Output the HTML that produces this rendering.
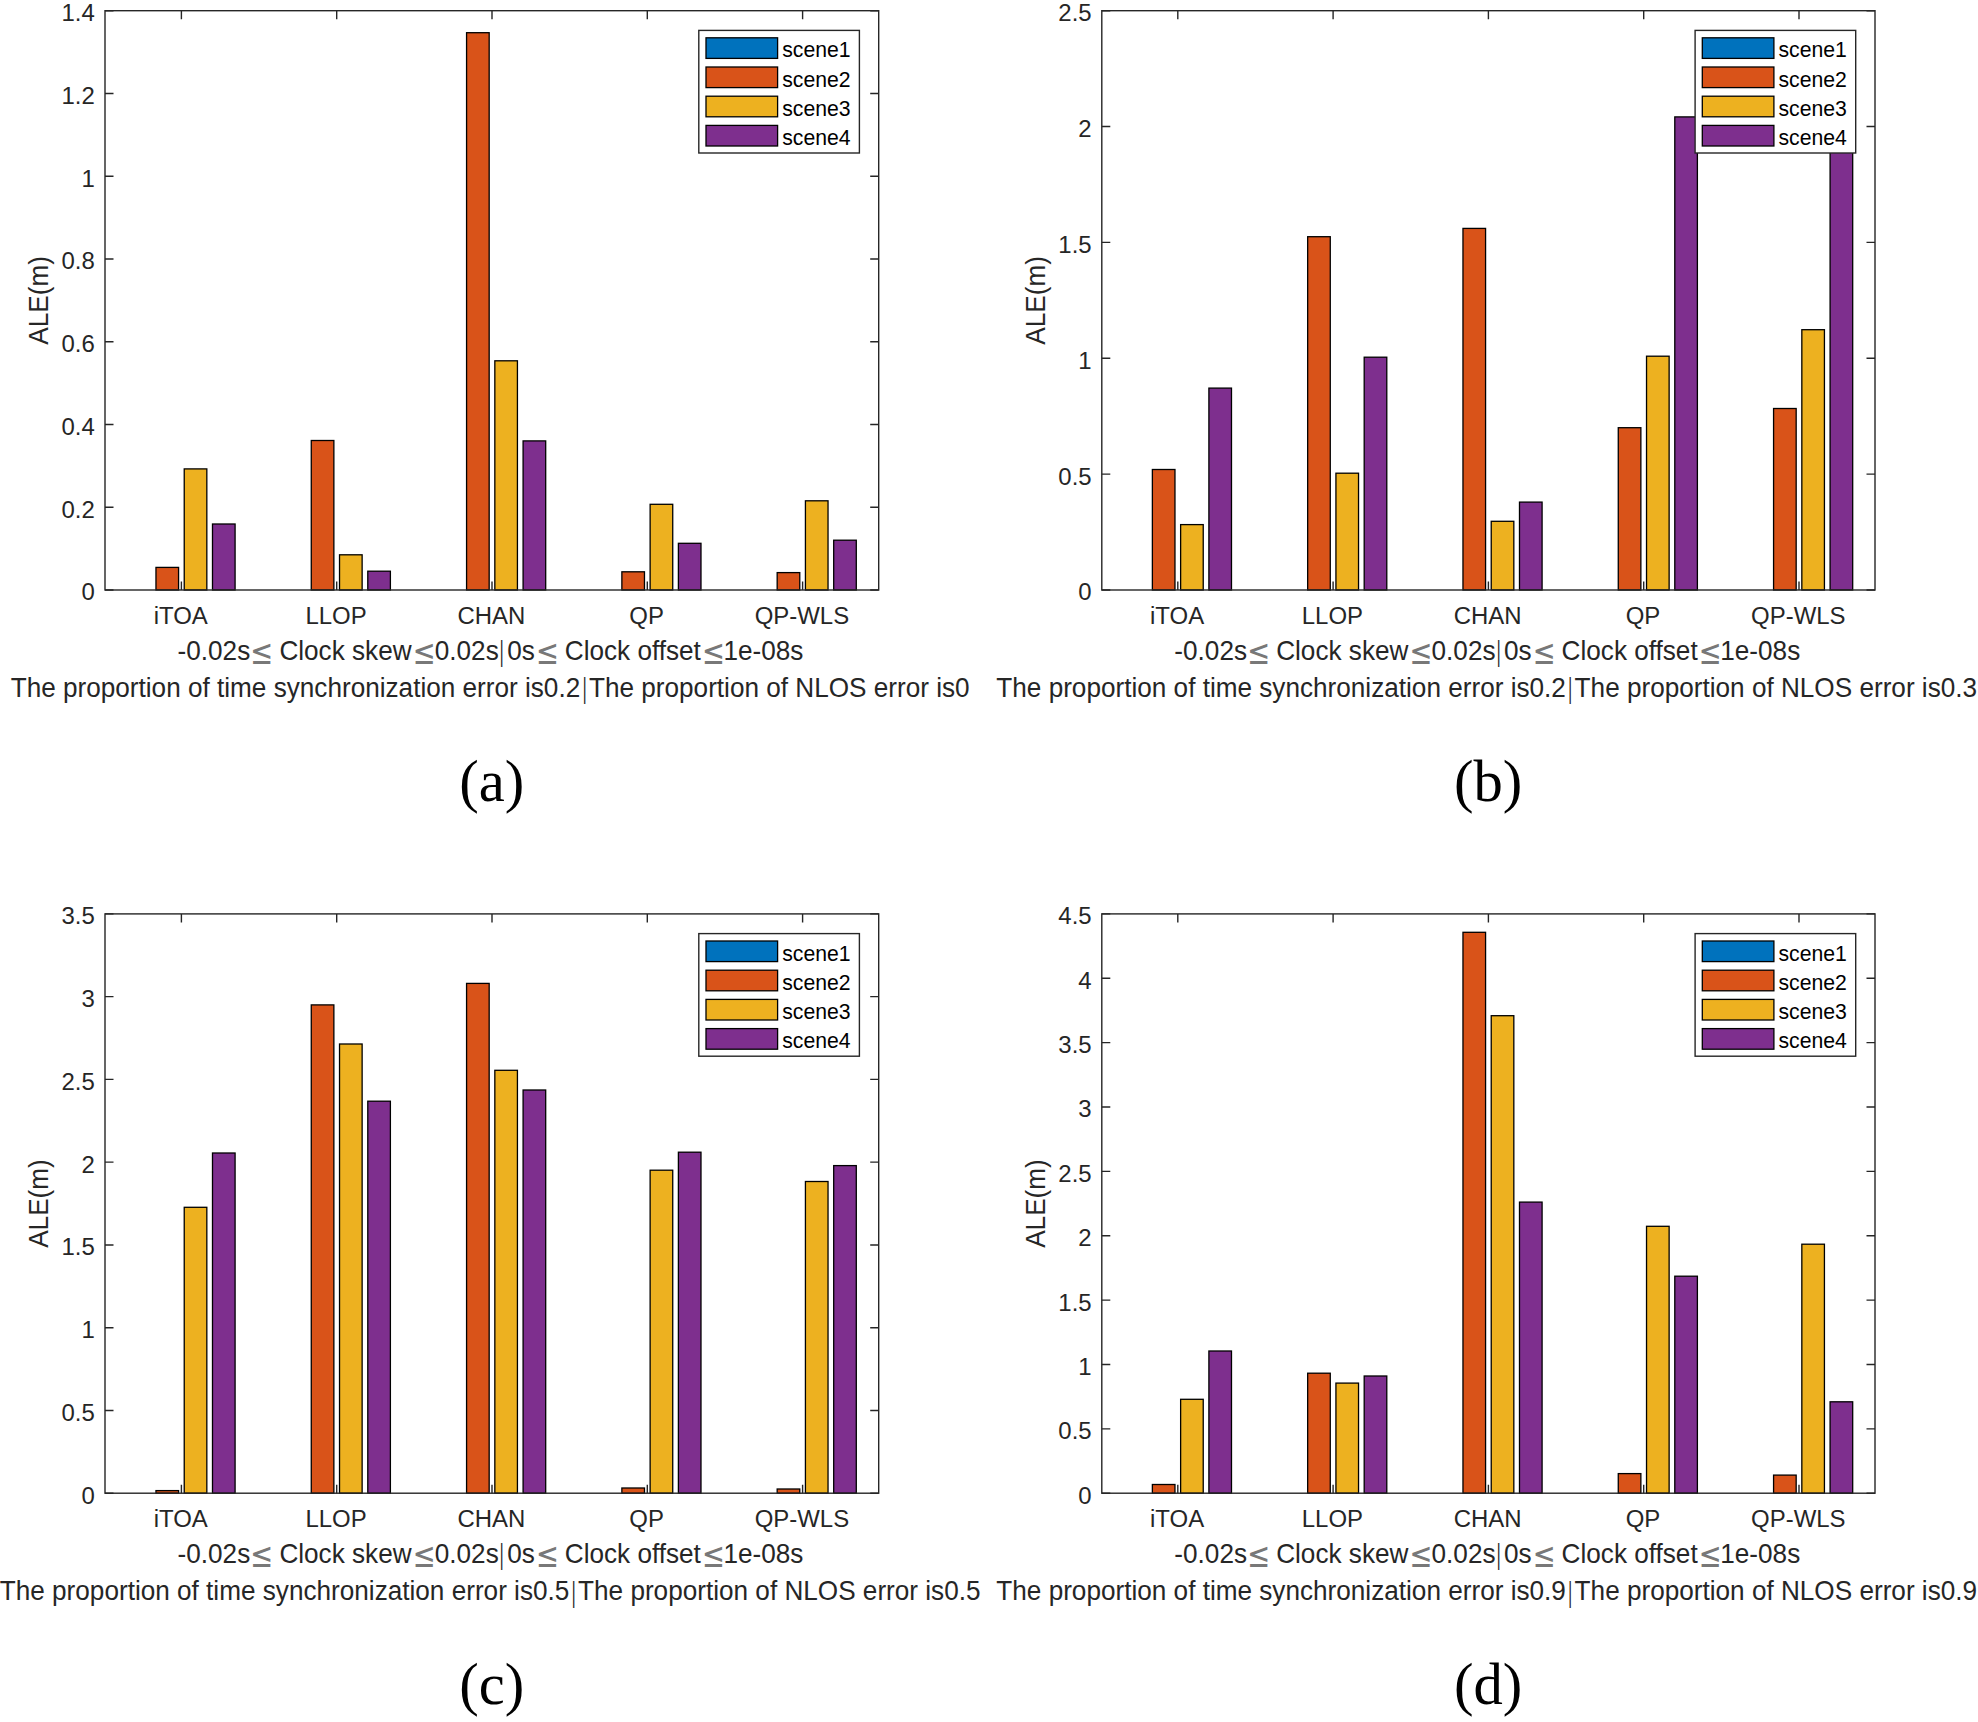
<!DOCTYPE html>
<html lang="en"><head><meta charset="utf-8"><title>ALE bar charts</title>
<style>html,body{margin:0;padding:0;background:#fff}svg{display:block}text{font-family:"Liberation Sans",Arial,sans-serif;fill:#262626}.tk{font-size:23.95px}.lb{font-size:26.15px}.lg{font-size:21.2px;fill:#000}.tag{font-family:"Liberation Serif","Times New Roman",serif;font-size:58.6px;fill:#000}.m{font-family:"DejaVu Sans Light","DejaVu Sans",sans-serif;font-weight:200;font-size:26px}.q{font-family:"DejaVu Sans",sans-serif;font-size:27.5px;fill:#787878}</style></head><body>
<svg width="1978" height="1722" viewBox="0 0 1978 1722">
<rect width="1978" height="1722" fill="#fff"/>
<g id="panel-a">
<path d="M181.4 590v-8.5M181.4 10.7v8.5M336.7 590v-8.5M336.7 10.7v8.5M492 590v-8.5M492 10.7v8.5M647.3 590v-8.5M647.3 10.7v8.5M802.6 590v-8.5M802.6 10.7v8.5M105 590h8.5M878.7 590h-8.5M105 507.24h8.5M878.7 507.24h-8.5M105 424.49h8.5M878.7 424.49h-8.5M105 341.73h8.5M878.7 341.73h-8.5M105 258.97h8.5M878.7 258.97h-8.5M105 176.21h8.5M878.7 176.21h-8.5M105 93.46h8.5M878.7 93.46h-8.5M105 10.7h8.5M878.7 10.7h-8.5" stroke="#262626" stroke-width="1.4" fill="none"/>
<rect x="155.97" y="567.4" width="22.6" height="22.6" fill="#D95319" stroke="#000" stroke-width="1.3"/>
<rect x="184.23" y="468.9" width="22.6" height="121.1" fill="#EDB120" stroke="#000" stroke-width="1.3"/>
<rect x="212.49" y="524" width="22.6" height="66" fill="#7E2F8E" stroke="#000" stroke-width="1.3"/>
<rect x="311.27" y="440.5" width="22.6" height="149.5" fill="#D95319" stroke="#000" stroke-width="1.3"/>
<rect x="339.53" y="554.8" width="22.6" height="35.2" fill="#EDB120" stroke="#000" stroke-width="1.3"/>
<rect x="367.79" y="571.2" width="22.6" height="18.8" fill="#7E2F8E" stroke="#000" stroke-width="1.3"/>
<rect x="466.57" y="32.7" width="22.6" height="557.3" fill="#D95319" stroke="#000" stroke-width="1.3"/>
<rect x="494.83" y="360.8" width="22.6" height="229.2" fill="#EDB120" stroke="#000" stroke-width="1.3"/>
<rect x="523.09" y="440.9" width="22.6" height="149.1" fill="#7E2F8E" stroke="#000" stroke-width="1.3"/>
<rect x="621.87" y="571.8" width="22.6" height="18.2" fill="#D95319" stroke="#000" stroke-width="1.3"/>
<rect x="650.13" y="504.3" width="22.6" height="85.7" fill="#EDB120" stroke="#000" stroke-width="1.3"/>
<rect x="678.39" y="543.3" width="22.6" height="46.7" fill="#7E2F8E" stroke="#000" stroke-width="1.3"/>
<rect x="777.17" y="572.6" width="22.6" height="17.4" fill="#D95319" stroke="#000" stroke-width="1.3"/>
<rect x="805.43" y="500.8" width="22.6" height="89.2" fill="#EDB120" stroke="#000" stroke-width="1.3"/>
<rect x="833.69" y="540.2" width="22.6" height="49.8" fill="#7E2F8E" stroke="#000" stroke-width="1.3"/>
<rect x="105" y="10.7" width="773.7" height="579.3" fill="none" stroke="#262626" stroke-width="1.4"/>
<text class="tk" x="94.8" y="600.4" text-anchor="end">0</text>
<text class="tk" x="94.8" y="517.64" text-anchor="end">0.2</text>
<text class="tk" x="94.8" y="434.89" text-anchor="end">0.4</text>
<text class="tk" x="94.8" y="352.13" text-anchor="end">0.6</text>
<text class="tk" x="94.8" y="269.37" text-anchor="end">0.8</text>
<text class="tk" x="94.8" y="186.61" text-anchor="end">1</text>
<text class="tk" x="94.8" y="103.86" text-anchor="end">1.2</text>
<text class="tk" x="94.8" y="21.1" text-anchor="end">1.4</text>
<text class="tk" x="180.7" y="624.1" text-anchor="middle">iTOA</text>
<text class="tk" x="336" y="624.1" text-anchor="middle">LLOP</text>
<text class="tk" x="491.3" y="624.1" text-anchor="middle">CHAN</text>
<text class="tk" x="646.6" y="624.1" text-anchor="middle">QP</text>
<text class="tk" x="801.9" y="624.1" text-anchor="middle">QP-WLS</text>
<text class="lb" transform="translate(48 300.35) rotate(-90) scale(1 1.045)" text-anchor="middle">ALE(m)</text>
<text class="lb" transform="translate(0 659.8) scale(1 1.045)"><tspan x="177.56" y="0">-0.02s</tspan><tspan x="279.39" y="0">Clock skew</tspan><tspan x="434.76" y="0">0.02s</tspan><tspan class="m" x="497.38" y="0.4">|</tspan><tspan x="507.16" y="0">0s</tspan><tspan x="564.8" y="0">Clock offset</tspan><tspan x="723.49" y="0">1e-08s</tspan></text>
<text class="q" transform="translate(250.09 663.5) scale(1 1.27)">≤</text>
<text class="q" transform="translate(412.38 663.5) scale(1 1.27)">≤</text>
<text class="q" transform="translate(535.69 663.5) scale(1 1.27)">≤</text>
<text class="q" transform="translate(701.69 663.5) scale(1 1.27)">≤</text>
<text class="lb" transform="translate(490.15 696.8) scale(1 1.045)" text-anchor="middle">The proportion of time synchronization error is0.2<tspan class="m" dy="0.5">|</tspan><tspan dy="-0.5">The proportion of NLOS error is0</tspan></text>
<rect x="698.8" y="30.4" width="160.6" height="122.6" fill="#fff" stroke="#262626" stroke-width="1.4"/>
<rect x="706" y="37.8" width="71.6" height="20.6" fill="#0072BD" stroke="#000" stroke-width="1.3"/>
<text class="lg" x="782.2" y="57.3">scene1</text>
<rect x="706" y="67" width="71.6" height="20.6" fill="#D95319" stroke="#000" stroke-width="1.3"/>
<text class="lg" x="782.2" y="86.5">scene2</text>
<rect x="706" y="96.2" width="71.6" height="20.6" fill="#EDB120" stroke="#000" stroke-width="1.3"/>
<text class="lg" x="782.2" y="115.7">scene3</text>
<rect x="706" y="125.4" width="71.6" height="20.6" fill="#7E2F8E" stroke="#000" stroke-width="1.3"/>
<text class="lg" x="782.2" y="144.9">scene4</text>
<text class="tag" x="491.65" y="801.1" text-anchor="middle">(a)</text>
</g>
<g id="panel-b">
<path d="M1177.8 590v-8.5M1177.8 10.7v8.5M1333.1 590v-8.5M1333.1 10.7v8.5M1488.4 590v-8.5M1488.4 10.7v8.5M1643.7 590v-8.5M1643.7 10.7v8.5M1799 590v-8.5M1799 10.7v8.5M1101.8 590h8.5M1875 590h-8.5M1101.8 474.14h8.5M1875 474.14h-8.5M1101.8 358.28h8.5M1875 358.28h-8.5M1101.8 242.42h8.5M1875 242.42h-8.5M1101.8 126.56h8.5M1875 126.56h-8.5M1101.8 10.7h8.5M1875 10.7h-8.5" stroke="#262626" stroke-width="1.4" fill="none"/>
<rect x="1152.37" y="469.5" width="22.6" height="120.5" fill="#D95319" stroke="#000" stroke-width="1.3"/>
<rect x="1180.63" y="524.6" width="22.6" height="65.4" fill="#EDB120" stroke="#000" stroke-width="1.3"/>
<rect x="1208.89" y="388.1" width="22.6" height="201.9" fill="#7E2F8E" stroke="#000" stroke-width="1.3"/>
<rect x="1307.67" y="236.7" width="22.6" height="353.3" fill="#D95319" stroke="#000" stroke-width="1.3"/>
<rect x="1335.93" y="473.2" width="22.6" height="116.8" fill="#EDB120" stroke="#000" stroke-width="1.3"/>
<rect x="1364.19" y="357.2" width="22.6" height="232.8" fill="#7E2F8E" stroke="#000" stroke-width="1.3"/>
<rect x="1462.97" y="228.4" width="22.6" height="361.6" fill="#D95319" stroke="#000" stroke-width="1.3"/>
<rect x="1491.23" y="521.3" width="22.6" height="68.7" fill="#EDB120" stroke="#000" stroke-width="1.3"/>
<rect x="1519.49" y="502.1" width="22.6" height="87.9" fill="#7E2F8E" stroke="#000" stroke-width="1.3"/>
<rect x="1618.27" y="427.7" width="22.6" height="162.3" fill="#D95319" stroke="#000" stroke-width="1.3"/>
<rect x="1646.53" y="356.2" width="22.6" height="233.8" fill="#EDB120" stroke="#000" stroke-width="1.3"/>
<rect x="1674.79" y="116.9" width="22.6" height="473.1" fill="#7E2F8E" stroke="#000" stroke-width="1.3"/>
<rect x="1773.57" y="408.5" width="22.6" height="181.5" fill="#D95319" stroke="#000" stroke-width="1.3"/>
<rect x="1801.83" y="329.7" width="22.6" height="260.3" fill="#EDB120" stroke="#000" stroke-width="1.3"/>
<rect x="1830.09" y="100.6" width="22.6" height="489.4" fill="#7E2F8E" stroke="#000" stroke-width="1.3"/>
<rect x="1101.8" y="10.7" width="773.2" height="579.3" fill="none" stroke="#262626" stroke-width="1.4"/>
<text class="tk" x="1091.6" y="600.4" text-anchor="end">0</text>
<text class="tk" x="1091.6" y="484.54" text-anchor="end">0.5</text>
<text class="tk" x="1091.6" y="368.68" text-anchor="end">1</text>
<text class="tk" x="1091.6" y="252.82" text-anchor="end">1.5</text>
<text class="tk" x="1091.6" y="136.96" text-anchor="end">2</text>
<text class="tk" x="1091.6" y="21.1" text-anchor="end">2.5</text>
<text class="tk" x="1177.1" y="624.1" text-anchor="middle">iTOA</text>
<text class="tk" x="1332.4" y="624.1" text-anchor="middle">LLOP</text>
<text class="tk" x="1487.7" y="624.1" text-anchor="middle">CHAN</text>
<text class="tk" x="1643" y="624.1" text-anchor="middle">QP</text>
<text class="tk" x="1798.3" y="624.1" text-anchor="middle">QP-WLS</text>
<text class="lb" transform="translate(1044.8 300.35) rotate(-90) scale(1 1.045)" text-anchor="middle">ALE(m)</text>
<text class="lb" transform="translate(0 659.8) scale(1 1.045)"><tspan x="1174.36" y="0">-0.02s</tspan><tspan x="1276.19" y="0">Clock skew</tspan><tspan x="1431.56" y="0">0.02s</tspan><tspan class="m" x="1494.18" y="0.4">|</tspan><tspan x="1503.96" y="0">0s</tspan><tspan x="1561.6" y="0">Clock offset</tspan><tspan x="1720.29" y="0">1e-08s</tspan></text>
<text class="q" transform="translate(1246.88 663.5) scale(1 1.27)">≤</text>
<text class="q" transform="translate(1409.18 663.5) scale(1 1.27)">≤</text>
<text class="q" transform="translate(1532.49 663.5) scale(1 1.27)">≤</text>
<text class="q" transform="translate(1698.49 663.5) scale(1 1.27)">≤</text>
<text class="lb" transform="translate(1486.7 696.8) scale(1 1.045)" text-anchor="middle">The proportion of time synchronization error is0.2<tspan class="m" dy="0.5">|</tspan><tspan dy="-0.5">The proportion of NLOS error is0.3</tspan></text>
<rect x="1695.1" y="30.4" width="160.6" height="122.6" fill="#fff" stroke="#262626" stroke-width="1.4"/>
<rect x="1702.3" y="37.8" width="71.6" height="20.6" fill="#0072BD" stroke="#000" stroke-width="1.3"/>
<text class="lg" x="1778.5" y="57.3">scene1</text>
<rect x="1702.3" y="67" width="71.6" height="20.6" fill="#D95319" stroke="#000" stroke-width="1.3"/>
<text class="lg" x="1778.5" y="86.5">scene2</text>
<rect x="1702.3" y="96.2" width="71.6" height="20.6" fill="#EDB120" stroke="#000" stroke-width="1.3"/>
<text class="lg" x="1778.5" y="115.7">scene3</text>
<rect x="1702.3" y="125.4" width="71.6" height="20.6" fill="#7E2F8E" stroke="#000" stroke-width="1.3"/>
<text class="lg" x="1778.5" y="144.9">scene4</text>
<text class="tag" x="1488.2" y="801.1" text-anchor="middle">(b)</text>
</g>
<g id="panel-c">
<path d="M181.4 1493.2v-8.5M181.4 913.9v8.5M336.7 1493.2v-8.5M336.7 913.9v8.5M492 1493.2v-8.5M492 913.9v8.5M647.3 1493.2v-8.5M647.3 913.9v8.5M802.6 1493.2v-8.5M802.6 913.9v8.5M105 1493.2h8.5M878.7 1493.2h-8.5M105 1410.44h8.5M878.7 1410.44h-8.5M105 1327.69h8.5M878.7 1327.69h-8.5M105 1244.93h8.5M878.7 1244.93h-8.5M105 1162.17h8.5M878.7 1162.17h-8.5M105 1079.41h8.5M878.7 1079.41h-8.5M105 996.66h8.5M878.7 996.66h-8.5M105 913.9h8.5M878.7 913.9h-8.5" stroke="#262626" stroke-width="1.4" fill="none"/>
<rect x="155.97" y="1490.6" width="22.6" height="2.6" fill="#D95319" stroke="#000" stroke-width="1.3"/>
<rect x="184.23" y="1207.3" width="22.6" height="285.9" fill="#EDB120" stroke="#000" stroke-width="1.3"/>
<rect x="212.49" y="1153" width="22.6" height="340.2" fill="#7E2F8E" stroke="#000" stroke-width="1.3"/>
<rect x="311.27" y="1004.9" width="22.6" height="488.3" fill="#D95319" stroke="#000" stroke-width="1.3"/>
<rect x="339.53" y="1044" width="22.6" height="449.2" fill="#EDB120" stroke="#000" stroke-width="1.3"/>
<rect x="367.79" y="1101.2" width="22.6" height="392" fill="#7E2F8E" stroke="#000" stroke-width="1.3"/>
<rect x="466.57" y="983.4" width="22.6" height="509.8" fill="#D95319" stroke="#000" stroke-width="1.3"/>
<rect x="494.83" y="1070.3" width="22.6" height="422.9" fill="#EDB120" stroke="#000" stroke-width="1.3"/>
<rect x="523.09" y="1090" width="22.6" height="403.2" fill="#7E2F8E" stroke="#000" stroke-width="1.3"/>
<rect x="621.87" y="1488" width="22.6" height="5.2" fill="#D95319" stroke="#000" stroke-width="1.3"/>
<rect x="650.13" y="1170.2" width="22.6" height="323" fill="#EDB120" stroke="#000" stroke-width="1.3"/>
<rect x="678.39" y="1152.2" width="22.6" height="341" fill="#7E2F8E" stroke="#000" stroke-width="1.3"/>
<rect x="777.17" y="1489" width="22.6" height="4.2" fill="#D95319" stroke="#000" stroke-width="1.3"/>
<rect x="805.43" y="1181.5" width="22.6" height="311.7" fill="#EDB120" stroke="#000" stroke-width="1.3"/>
<rect x="833.69" y="1165.6" width="22.6" height="327.6" fill="#7E2F8E" stroke="#000" stroke-width="1.3"/>
<rect x="105" y="913.9" width="773.7" height="579.3" fill="none" stroke="#262626" stroke-width="1.4"/>
<text class="tk" x="94.8" y="1503.6" text-anchor="end">0</text>
<text class="tk" x="94.8" y="1420.84" text-anchor="end">0.5</text>
<text class="tk" x="94.8" y="1338.09" text-anchor="end">1</text>
<text class="tk" x="94.8" y="1255.33" text-anchor="end">1.5</text>
<text class="tk" x="94.8" y="1172.57" text-anchor="end">2</text>
<text class="tk" x="94.8" y="1089.81" text-anchor="end">2.5</text>
<text class="tk" x="94.8" y="1007.06" text-anchor="end">3</text>
<text class="tk" x="94.8" y="924.3" text-anchor="end">3.5</text>
<text class="tk" x="180.7" y="1527.3" text-anchor="middle">iTOA</text>
<text class="tk" x="336" y="1527.3" text-anchor="middle">LLOP</text>
<text class="tk" x="491.3" y="1527.3" text-anchor="middle">CHAN</text>
<text class="tk" x="646.6" y="1527.3" text-anchor="middle">QP</text>
<text class="tk" x="801.9" y="1527.3" text-anchor="middle">QP-WLS</text>
<text class="lb" transform="translate(48 1203.55) rotate(-90) scale(1 1.045)" text-anchor="middle">ALE(m)</text>
<text class="lb" transform="translate(0 1563) scale(1 1.045)"><tspan x="177.56" y="0">-0.02s</tspan><tspan x="279.39" y="0">Clock skew</tspan><tspan x="434.76" y="0">0.02s</tspan><tspan class="m" x="497.38" y="0.4">|</tspan><tspan x="507.16" y="0">0s</tspan><tspan x="564.8" y="0">Clock offset</tspan><tspan x="723.49" y="0">1e-08s</tspan></text>
<text class="q" transform="translate(250.09 1566.7) scale(1 1.27)">≤</text>
<text class="q" transform="translate(412.38 1566.7) scale(1 1.27)">≤</text>
<text class="q" transform="translate(535.69 1566.7) scale(1 1.27)">≤</text>
<text class="q" transform="translate(701.69 1566.7) scale(1 1.27)">≤</text>
<text class="lb" transform="translate(490.15 1600) scale(1 1.045)" text-anchor="middle">The proportion of time synchronization error is0.5<tspan class="m" dy="0.5">|</tspan><tspan dy="-0.5">The proportion of NLOS error is0.5</tspan></text>
<rect x="698.8" y="933.6" width="160.6" height="122.6" fill="#fff" stroke="#262626" stroke-width="1.4"/>
<rect x="706" y="941" width="71.6" height="20.6" fill="#0072BD" stroke="#000" stroke-width="1.3"/>
<text class="lg" x="782.2" y="960.5">scene1</text>
<rect x="706" y="970.2" width="71.6" height="20.6" fill="#D95319" stroke="#000" stroke-width="1.3"/>
<text class="lg" x="782.2" y="989.7">scene2</text>
<rect x="706" y="999.4" width="71.6" height="20.6" fill="#EDB120" stroke="#000" stroke-width="1.3"/>
<text class="lg" x="782.2" y="1018.9">scene3</text>
<rect x="706" y="1028.6" width="71.6" height="20.6" fill="#7E2F8E" stroke="#000" stroke-width="1.3"/>
<text class="lg" x="782.2" y="1048.1">scene4</text>
<text class="tag" x="491.65" y="1704.3" text-anchor="middle">(c)</text>
</g>
<g id="panel-d">
<path d="M1177.8 1493.2v-8.5M1177.8 913.9v8.5M1333.1 1493.2v-8.5M1333.1 913.9v8.5M1488.4 1493.2v-8.5M1488.4 913.9v8.5M1643.7 1493.2v-8.5M1643.7 913.9v8.5M1799 1493.2v-8.5M1799 913.9v8.5M1101.8 1493.2h8.5M1875 1493.2h-8.5M1101.8 1428.83h8.5M1875 1428.83h-8.5M1101.8 1364.47h8.5M1875 1364.47h-8.5M1101.8 1300.1h8.5M1875 1300.1h-8.5M1101.8 1235.73h8.5M1875 1235.73h-8.5M1101.8 1171.37h8.5M1875 1171.37h-8.5M1101.8 1107h8.5M1875 1107h-8.5M1101.8 1042.63h8.5M1875 1042.63h-8.5M1101.8 978.27h8.5M1875 978.27h-8.5M1101.8 913.9h8.5M1875 913.9h-8.5" stroke="#262626" stroke-width="1.4" fill="none"/>
<rect x="1152.37" y="1484.5" width="22.6" height="8.7" fill="#D95319" stroke="#000" stroke-width="1.3"/>
<rect x="1180.63" y="1399.3" width="22.6" height="93.9" fill="#EDB120" stroke="#000" stroke-width="1.3"/>
<rect x="1208.89" y="1351" width="22.6" height="142.2" fill="#7E2F8E" stroke="#000" stroke-width="1.3"/>
<rect x="1307.67" y="1373.2" width="22.6" height="120" fill="#D95319" stroke="#000" stroke-width="1.3"/>
<rect x="1335.93" y="1383.1" width="22.6" height="110.1" fill="#EDB120" stroke="#000" stroke-width="1.3"/>
<rect x="1364.19" y="1376" width="22.6" height="117.2" fill="#7E2F8E" stroke="#000" stroke-width="1.3"/>
<rect x="1462.97" y="932.3" width="22.6" height="560.9" fill="#D95319" stroke="#000" stroke-width="1.3"/>
<rect x="1491.23" y="1015.7" width="22.6" height="477.5" fill="#EDB120" stroke="#000" stroke-width="1.3"/>
<rect x="1519.49" y="1202.1" width="22.6" height="291.1" fill="#7E2F8E" stroke="#000" stroke-width="1.3"/>
<rect x="1618.27" y="1473.6" width="22.6" height="19.6" fill="#D95319" stroke="#000" stroke-width="1.3"/>
<rect x="1646.53" y="1226.3" width="22.6" height="266.9" fill="#EDB120" stroke="#000" stroke-width="1.3"/>
<rect x="1674.79" y="1276.2" width="22.6" height="217" fill="#7E2F8E" stroke="#000" stroke-width="1.3"/>
<rect x="1773.57" y="1475.1" width="22.6" height="18.1" fill="#D95319" stroke="#000" stroke-width="1.3"/>
<rect x="1801.83" y="1244.2" width="22.6" height="249" fill="#EDB120" stroke="#000" stroke-width="1.3"/>
<rect x="1830.09" y="1401.8" width="22.6" height="91.4" fill="#7E2F8E" stroke="#000" stroke-width="1.3"/>
<rect x="1101.8" y="913.9" width="773.2" height="579.3" fill="none" stroke="#262626" stroke-width="1.4"/>
<text class="tk" x="1091.6" y="1503.6" text-anchor="end">0</text>
<text class="tk" x="1091.6" y="1439.23" text-anchor="end">0.5</text>
<text class="tk" x="1091.6" y="1374.87" text-anchor="end">1</text>
<text class="tk" x="1091.6" y="1310.5" text-anchor="end">1.5</text>
<text class="tk" x="1091.6" y="1246.13" text-anchor="end">2</text>
<text class="tk" x="1091.6" y="1181.77" text-anchor="end">2.5</text>
<text class="tk" x="1091.6" y="1117.4" text-anchor="end">3</text>
<text class="tk" x="1091.6" y="1053.03" text-anchor="end">3.5</text>
<text class="tk" x="1091.6" y="988.67" text-anchor="end">4</text>
<text class="tk" x="1091.6" y="924.3" text-anchor="end">4.5</text>
<text class="tk" x="1177.1" y="1527.3" text-anchor="middle">iTOA</text>
<text class="tk" x="1332.4" y="1527.3" text-anchor="middle">LLOP</text>
<text class="tk" x="1487.7" y="1527.3" text-anchor="middle">CHAN</text>
<text class="tk" x="1643" y="1527.3" text-anchor="middle">QP</text>
<text class="tk" x="1798.3" y="1527.3" text-anchor="middle">QP-WLS</text>
<text class="lb" transform="translate(1044.8 1203.55) rotate(-90) scale(1 1.045)" text-anchor="middle">ALE(m)</text>
<text class="lb" transform="translate(0 1563) scale(1 1.045)"><tspan x="1174.36" y="0">-0.02s</tspan><tspan x="1276.19" y="0">Clock skew</tspan><tspan x="1431.56" y="0">0.02s</tspan><tspan class="m" x="1494.18" y="0.4">|</tspan><tspan x="1503.96" y="0">0s</tspan><tspan x="1561.6" y="0">Clock offset</tspan><tspan x="1720.29" y="0">1e-08s</tspan></text>
<text class="q" transform="translate(1246.88 1566.7) scale(1 1.27)">≤</text>
<text class="q" transform="translate(1409.18 1566.7) scale(1 1.27)">≤</text>
<text class="q" transform="translate(1532.49 1566.7) scale(1 1.27)">≤</text>
<text class="q" transform="translate(1698.49 1566.7) scale(1 1.27)">≤</text>
<text class="lb" transform="translate(1486.7 1600) scale(1 1.045)" text-anchor="middle">The proportion of time synchronization error is0.9<tspan class="m" dy="0.5">|</tspan><tspan dy="-0.5">The proportion of NLOS error is0.9</tspan></text>
<rect x="1695.1" y="933.6" width="160.6" height="122.6" fill="#fff" stroke="#262626" stroke-width="1.4"/>
<rect x="1702.3" y="941" width="71.6" height="20.6" fill="#0072BD" stroke="#000" stroke-width="1.3"/>
<text class="lg" x="1778.5" y="960.5">scene1</text>
<rect x="1702.3" y="970.2" width="71.6" height="20.6" fill="#D95319" stroke="#000" stroke-width="1.3"/>
<text class="lg" x="1778.5" y="989.7">scene2</text>
<rect x="1702.3" y="999.4" width="71.6" height="20.6" fill="#EDB120" stroke="#000" stroke-width="1.3"/>
<text class="lg" x="1778.5" y="1018.9">scene3</text>
<rect x="1702.3" y="1028.6" width="71.6" height="20.6" fill="#7E2F8E" stroke="#000" stroke-width="1.3"/>
<text class="lg" x="1778.5" y="1048.1">scene4</text>
<text class="tag" x="1488.2" y="1704.3" text-anchor="middle">(d)</text>
</g>
</svg></body></html>
